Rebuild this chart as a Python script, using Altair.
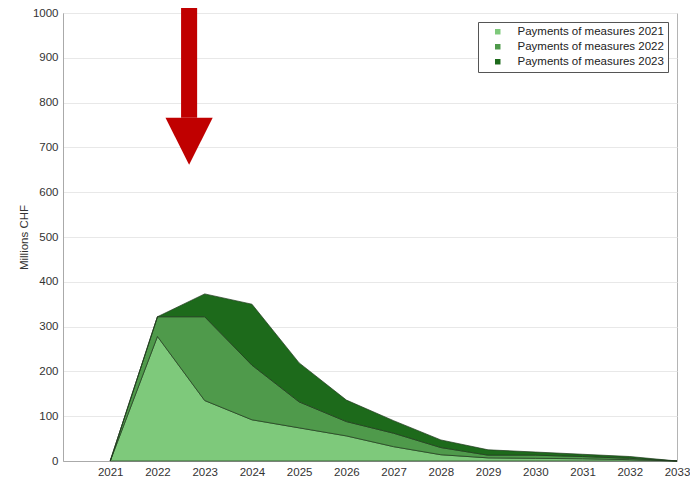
import altair as alt
import pandas as pd

# ---- data ----
years = list(range(2021, 2034))
series_names = ["Payments of measures 2021", "Payments of measures 2022", "Payments of measures 2023"]
pay_2021 = [0, 278, 135, 92, 74, 56, 32, 14, 7, 6, 5, 3, 0]
pay_2022 = [0, 44, 187, 122, 58, 32, 30, 16, 6, 7, 5, 3, 0]
pay_2023 = [0, 0, 51, 136, 87, 48, 28, 17, 12, 7, 5, 4, 0]
colors = ["#7ec97b", "#4f9a4b", "#1d6a1b"]
y_ticks = list(range(0, 1001, 100))
x_ticks = list(range(2021, 2034))
x_domain = [2020, 2033]
y_domain = [0, 1000]

# red annotation arrow (in data units)
shaft_x = [2022.5, 2022.84]
shaft_y = [766, 1030]
head_x = [2022.17, 2022.67, 2023.17]
head_y = [766, 766, 766]
head_y2 = [766, 661, 766]
arrow_color = "#c00000"

rows = []
for i, (name, vals) in enumerate(zip(series_names, [pay_2021, pay_2022, pay_2023])):
    for yr, v in zip(years, vals):
        rows.append({"year": yr, "value": v, "series": name, "ord": i})
df = pd.DataFrame(rows)

xs = alt.Scale(domain=x_domain, nice=False, zero=False)
ys = alt.Scale(domain=y_domain, nice=False)

areas = alt.Chart(df).mark_area(stroke="#1f3a1d", strokeWidth=0.7, opacity=1).encode(
    x=alt.X("year:Q", scale=xs,
            axis=alt.Axis(values=x_ticks, format="d", title=None, grid=False, ticks=False,
                          labelPadding=5, labelFlush=False, labelOverlap=False,
                          domainColor="#aaaaaa")),
    y=alt.Y("value:Q", stack="zero", scale=ys,
            axis=alt.Axis(values=y_ticks, format="d", title="Millions CHF", grid=True,
                          gridColor="#e8e8e8", ticks=False, labelPadding=5, titlePadding=3,
                          labelFlush=False, domainColor="#aaaaaa")),
    color=alt.Color("series:N", scale=alt.Scale(domain=series_names, range=colors),
                    legend=alt.Legend(title=None, orient="none", legendX=415, legendY=9,
                                      strokeColor="#555555", fillColor="white", padding=4,
                                      symbolType="square", symbolSize=30, symbolStrokeWidth=0,
                                      symbolOffset=10, labelOffset=14,
                                      labelFontSize=11.5, labelLimit=0, rowPadding=2)),
    order=alt.Order("ord:Q"),
)

shaft_df = pd.DataFrame({"x": [shaft_x[0]], "x2": [shaft_x[1]], "y": [shaft_y[0]], "y2": [shaft_y[1]]})
shaft = alt.Chart(shaft_df).mark_rect(color=arrow_color).encode(
    x=alt.X("x:Q", scale=xs), x2="x2:Q",
    y=alt.Y("y:Q", scale=ys), y2="y2:Q",
)

head_df = pd.DataFrame({"x": head_x, "y": head_y, "y2": head_y2})
head = alt.Chart(head_df).mark_area(color=arrow_color, opacity=1).encode(
    x=alt.X("x:Q", scale=xs),
    y=alt.Y("y:Q", scale=ys), y2="y2:Q",
)

chart = alt.layer(areas, shaft, head).properties(
    width=614, height=448,
    autosize=alt.AutoSizeParams(type="none"),
    padding={"left": 55, "top": 5, "right": 13, "bottom": 19},
).configure(
    font="Liberation Sans",
).configure_axis(
    labelFontSize=11.5, labelColor="#333333", titleFontSize=11.5,
    titleFontWeight="normal", titleColor="#333333",
).configure_legend(
    labelColor="#222222",
).configure_view(
    stroke="#b4b4b4",
)

chart.save("out.html", embed_options={"renderer": "svg", "actions": False})
